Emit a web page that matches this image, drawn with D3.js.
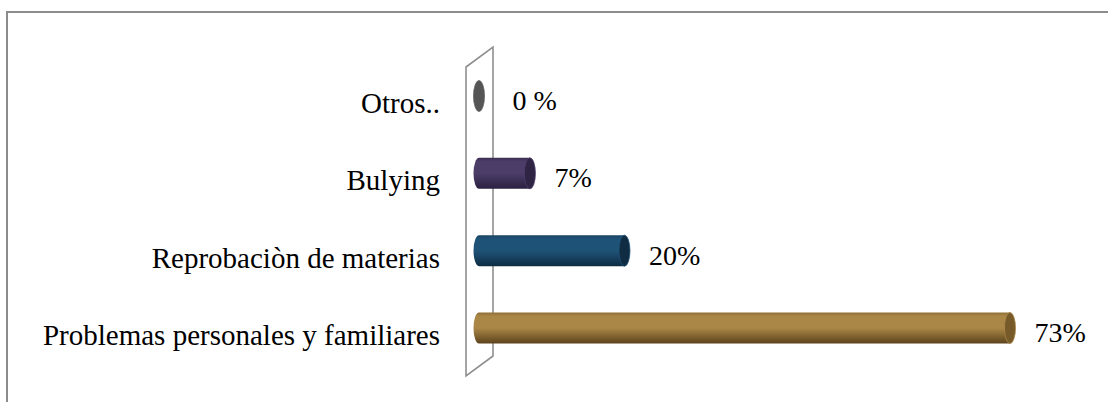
<!DOCTYPE html>
<html>
<head>
<meta charset="utf-8">
<script src="https://cdn.jsdelivr.net/npm/d3@7"></script>
<style>
  body { margin: 0; background: #fff; }
  svg text { font-family: "Liberation Serif", "Times New Roman", serif; fill: #000; }
</style>
</head>
<body>
<div id="chart"></div>
<script>
// data
var categories = ["Otros..", "Bulying", "Reprobaciòn de materias", "Problemas personales y familiares"];
var values = [0, 7, 20, 73];
var valueLabels = ["0 %", "7%", "20%", "73%"];

// colours for each bar: [top, mid, bottom, cap]
var barColors = [
  ["#6a6a6a", "#626262", "#444444", "#555555"],
  ["#3c2f52", "#4b3c68", "#2b2140", "#2f2444"],
  ["#184463", "#1f5277", "#0e2c43", "#0f2c42"],
  ["#8f6e35", "#aa8747", "#5c431d", "#775a29"]
];

var width = 1108, height = 402;

var svg = d3.select("#chart")
  .append("svg")
  .attr("width", width)
  .attr("height", height);

// outer frame (runs off the right/bottom edges)
svg.append("rect")
  .attr("x", 7)
  .attr("y", 12)
  .attr("width", 1200)
  .attr("height", 500)
  .attr("fill", "none")
  .attr("stroke", "#8c8c8c")
  .attr("stroke-width", 2);

// scales
var x = d3.scaleLinear()
  .domain([0, 73])
  .range([479, 1010]);

var y = d3.scalePoint()
  .domain(categories)
  .range([96, 328]);

var barH = 31, rx = 5.5;

// 3d wall behind the bars
var wallX = 466, dx = 27, dy = -20;
svg.append("path")
  .attr("d", "M" + wallX + ",376 L" + wallX + ",67 L" + (wallX + dx) + "," + (67 + dy) +
    " L" + (wallX + dx) + "," + (376 + dy) + " Z")
  .attr("fill", "#fff")
  .attr("stroke", "#8f8f8f")
  .attr("stroke-width", 1.6);

// gradients
var defs = svg.append("defs");
barColors.forEach(function (c, i) {
  var g = defs.append("linearGradient")
    .attr("id", "grad" + i)
    .attr("x1", 0).attr("y1", 0).attr("x2", 0).attr("y2", 1);
  g.append("stop").attr("offset", "0%").attr("stop-color", c[0]);
  g.append("stop").attr("offset", "12%").attr("stop-color", c[1]);
  g.append("stop").attr("offset", "50%").attr("stop-color", c[1]);
  g.append("stop").attr("offset", "100%").attr("stop-color", c[2]);
});

var bars = svg.append("g")
  .selectAll("g")
  .data(categories)
  .enter()
  .append("g");

// cylinder body
bars.append("path")
  .attr("d", function (d, i) {
    var x0 = x(0), x1 = x(values[i]);
    var top = y(d) - barH / 2, bot = y(d) + barH / 2;
    if (x1 - x0 < 1) return "";
    return "M" + x1 + "," + top + " L" + x0 + "," + top +
      " A" + rx + "," + (barH / 2) + " 0 0 0 " + x0 + "," + bot +
      " L" + x1 + "," + bot + " Z";
  })
  .attr("fill", function (d, i) { return "url(#grad" + i + ")"; });

// end cap
bars.append("ellipse")
  .attr("cx", function (d, i) { return x(values[i]); })
  .attr("cy", function (d) { return y(d); })
  .attr("rx", rx)
  .attr("ry", barH / 2)
  .attr("fill", function (d, i) { return barColors[i][3]; })
  .attr("stroke", function (d, i) { return barColors[i][1]; })
  .attr("stroke-width", 0.8);

// value labels
bars.append("text")
  .attr("x", function (d, i) { return x(values[i]) + rx + (values[i] === 0 ? 28 : 19); })
  .attr("y", function (d) { return y(d) + 14; })
  .style("font-size", "28px")
  .text(function (d, i) { return valueLabels[i]; });

// category labels
svg.append("g")
  .selectAll("text")
  .data(categories)
  .enter()
  .append("text")
  .attr("x", 440)
  .attr("y", function (d) { return y(d) + 17; })
  .attr("text-anchor", "end")
  .style("font-size", "29px")
  .text(function (d) { return d; });
</script>
</body>
</html>
